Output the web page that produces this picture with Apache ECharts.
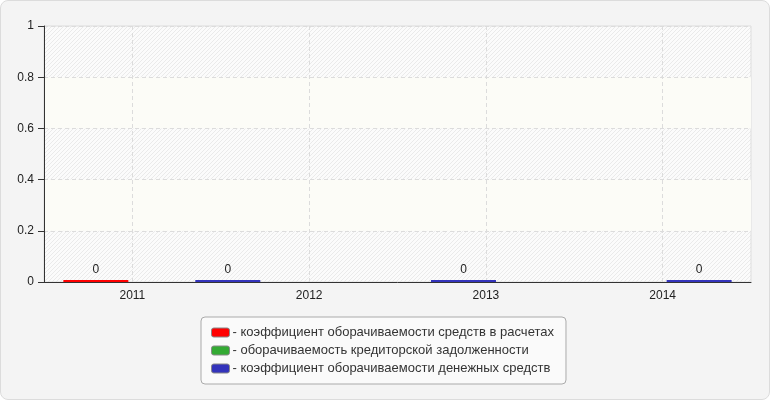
<!DOCTYPE html>
<html>
<head>
<meta charset="utf-8">
<script src="https://cdn.jsdelivr.net/npm/echarts@6/dist/echarts.min.js"></script>
<style>
  html, body { margin: 0; padding: 0; background: #fff; }
  #chart {
    width: 768px; height: 398px;
    border: 1px solid #dcdcdc; border-radius: 8px;
    background: #f4f4f4; overflow: hidden;
  }
</style>
</head>
<body>
<div id="chart"></div>
<script>
// подписи оси X
const years = ['2011', '2012', '2013', '2014']
// столбцы лежат на своей (скрытой) оси из трех категорий
const barSlots = ['1', '2', '3']
const seriesNames = [
  'коэффициент оборачиваемости средств в расчетах',
  'оборачиваемость кредиторской задолженности',
  'коэффициент оборачиваемости денежных средств'
]
const receivables = [0, null, null]
const payables = [null, null, null]
const cash = [0, 0, 0]
const yTicks = [0, 0.2, 0.4, 0.6, 0.8, 1]
const colors = ['#ff0000', '#33aa33', '#3333bb']

// штриховка фона
const hatch = document.createElement('canvas')
hatch.width = 4
hatch.height = 4
const hctx = hatch.getContext('2d')
hctx.fillStyle = '#fbfbfb'
hctx.fillRect(0, 0, 4, 4)
hctx.strokeStyle = '#eaeaea'
hctx.lineWidth = 1
hctx.beginPath()
hctx.moveTo(0, 4)
hctx.lineTo(4, 0)
hctx.stroke()

const myChart = echarts.init(document.getElementById('chart'))
const font = 'Arial, "Liberation Sans", sans-serif'

const barSeries = (name, data, color) => ({
  name: name,
  type: 'bar',
  xAxisIndex: 1,
  data: data,
  barWidth: 65,
  barGap: '1.5%',
  barMinHeight: 2,
  itemStyle: { color: color },
  label: {
    show: true,
    position: 'top',
    distance: 4,
    color: '#222',
    fontSize: 12,
    fontFamily: font
  }
})

myChart.setOption({
  animation: false,
  textStyle: { fontFamily: font },
  grid: {
    left: 43, right: 18, top: 25, bottom: 117,
    show: true,
    borderColor: '#dddddd',
    borderWidth: 1,
    backgroundColor: { image: hatch, repeat: 'repeat' }
  },
  legend: {
    orient: 'vertical',
    left: 200,
    top: 316,
    padding: [9, 12, 9, 10],
    itemWidth: 18,
    itemHeight: 9,
    itemGap: 5,
    icon: 'roundRect',
    backgroundColor: '#fafafa',
    borderColor: '#aaaaaa',
    borderWidth: 1,
    borderRadius: 4,
    selectedMode: false,
    formatter: (name) => '- ' + name,
    textStyle: { color: '#333', fontSize: 13, fontFamily: font, padding: [0, 0, 0, -2] },
    itemStyle: { borderColor: '#888', borderWidth: 1 },
    data: seriesNames
  },
  xAxis: [
    {
      type: 'category',
      data: years,
      axisLine: { lineStyle: { color: '#333', width: 1 } },
      axisTick: { alignWithLabel: true, length: 5, lineStyle: { color: '#333' } },
      axisLabel: { color: '#222', fontSize: 12, margin: 8 },
      splitLine: {
        show: true,
        alignWithLabel: true,
        lineStyle: { color: '#dcdcdc', type: [4, 3] }
      }
    },
    {
      type: 'category',
      data: barSlots,
      show: false
    }
  ],
  yAxis: {
    type: 'value',
    min: yTicks[0],
    max: yTicks[yTicks.length - 1],
    interval: 0.2,
    axisLine: { show: true, lineStyle: { color: '#333', width: 1 } },
    axisTick: { show: true, length: 6, lineStyle: { color: '#333' } },
    axisLabel: { color: '#222', fontSize: 12, margin: 10 },
    splitLine: { lineStyle: { color: '#dcdcdc', type: [4, 3] } },
    splitArea: { show: true, areaStyle: { color: ['rgba(0,0,0,0)', '#fcfcf7'] } }
  },
  series: [
    barSeries(seriesNames[0], receivables, colors[0]),
    barSeries(seriesNames[1], payables, colors[1]),
    barSeries(seriesNames[2], cash, colors[2])
  ]
})
</script>
</body>
</html>
